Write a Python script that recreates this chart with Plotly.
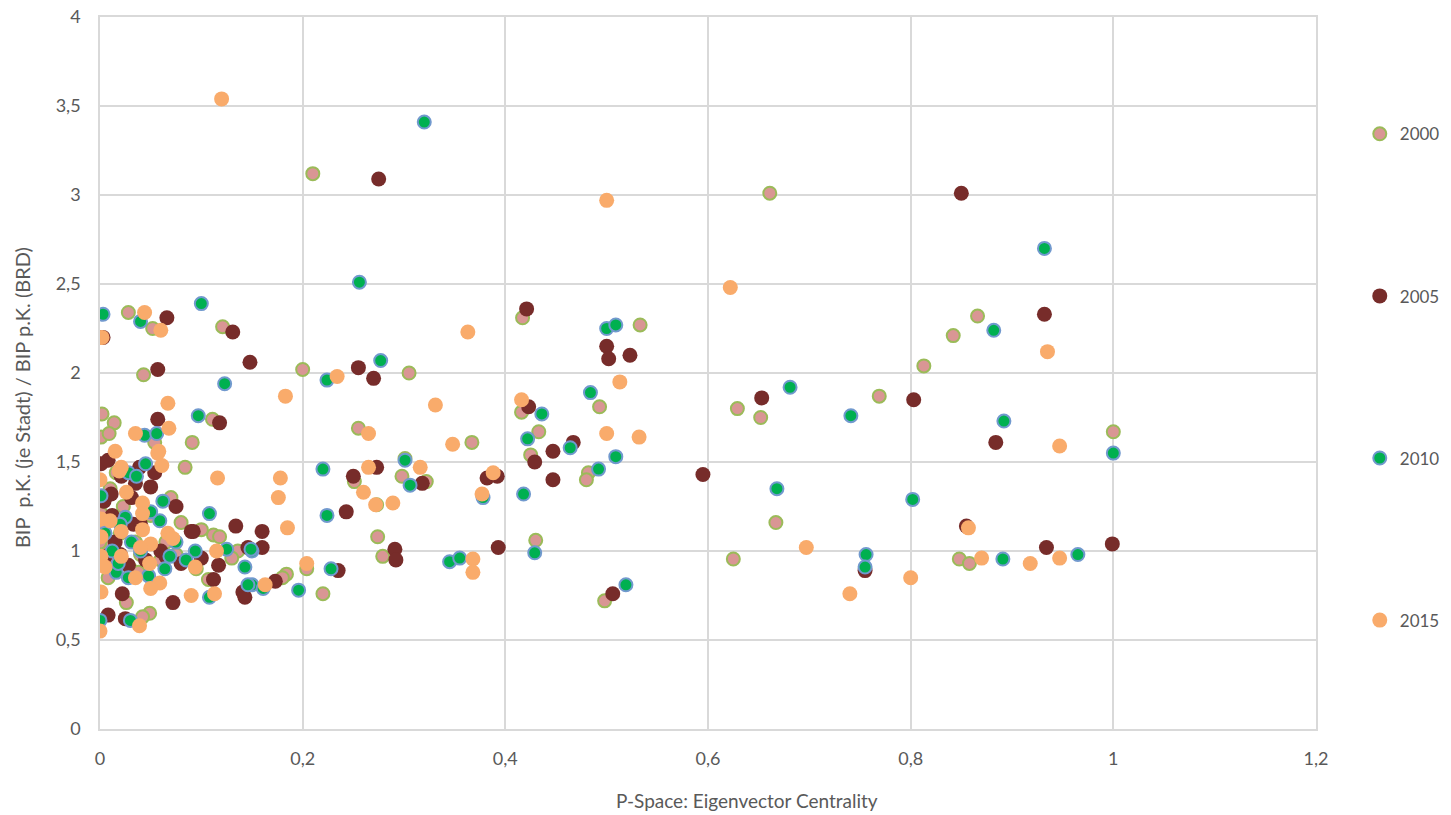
import plotly.graph_objects as go

# --- data: P-Space eigenvector centrality vs. relative GDP per capita ---
x_2000 = [0.210, 0.661, 0.417, 0.533, 0.028, 0.052, 0.121, 0.043, 0.002, 0.014, 0.001, 0.009, 0.111, 0.091, 0.054,
          0.200, 0.255, 0.305, 0.367, 0.416, 0.433, 0.425, 0.493, 0.482, 0.480, 0.301, 0.298,
          0.629, 0.652, 0.769, 0.813, 0.842, 0.866, 1.000, 0.667, 0.625, 0.848, 0.858, 0.498, 0.430,
          0.251, 0.322, 0.273, 0.274, 0.279, 0.184, 0.220, 0.204, 0.180,
          0.084, 0.070, 0.080, 0.112, 0.118, 0.136, 0.107, 0.026, 0.049, 0.042, 0.001, 0.016,
          0.003, 0.005, 0.012, 0.020, 0.035, 0.040, 0.060, 0.075, 0.065, 0.095, 0.030, 0.008, 0.050, 0.023,
          0.010, 0.000, 0.038, 0.100, 0.130]
y_2000 = [3.12, 3.01, 2.31, 2.27, 2.34, 2.25, 2.26, 1.99, 1.77, 1.72, 1.64, 1.66, 1.74, 1.61, 1.61,
          2.02, 1.69, 2.00, 1.61, 1.78, 1.67, 1.54, 1.81, 1.44, 1.40, 1.52, 1.42,
          1.80, 1.75, 1.87, 2.04, 2.21, 2.32, 1.67, 1.16, 0.955, 0.955, 0.93, 0.72, 1.06,
          1.39, 1.39, 1.26, 1.08, 0.97, 0.87, 0.76, 0.90, 0.85,
          1.47, 1.30, 1.16, 1.09, 1.08, 1.00, 0.84, 0.71, 0.65, 0.63, 1.21, 1.44,
          1.13, 1.03, 0.96, 1.10, 1.05, 0.98, 0.95, 0.98, 1.05, 0.90, 0.90, 0.85, 1.20, 1.25,
          1.35, 1.05, 0.88, 1.12, 0.96]

x_2005 = [0.275, 0.850, 0.932, 0.421, 0.423, 0.003, 0.066, 0.131, 0.148, 0.057, 0.118, 0.057, 0.255, 0.270,
          0.500, 0.502, 0.523, 0.595, 0.653, 0.803, 0.884, 0.855, 0.934, 0.999, 0.755, 0.506, 0.467, 0.447,
          0.429, 0.447, 0.382, 0.392, 0.318, 0.393, 0.273, 0.250, 0.243, 0.291, 0.292, 0.235, 0.160, 0.160,
          0.173, 0.134, 0.117, 0.112, 0.141, 0.092, 0.146,
          0.001, 0.039, 0.054, 0.050, 0.075, 0.090, 0.072, 0.008, 0.025, 0.021, 0.031, 0.033, 0.143,
          0.004, 0.012, 0.015, 0.020, 0.028, 0.045, 0.060, 0.065, 0.080, 0.100, 0.005, 0.040, 0.022, 0.011,
          0.035, 0.008]
y_2005 = [3.09, 3.01, 2.33, 2.36, 1.81, 2.20, 2.31, 2.23, 2.06, 2.02, 1.72, 1.74, 2.03, 1.97,
          2.15, 2.08, 2.10, 1.43, 1.86, 1.85, 1.61, 1.14, 1.02, 1.04, 0.89, 0.76, 1.61, 1.56,
          1.50, 1.40, 1.41, 1.42, 1.38, 1.02, 1.47, 1.42, 1.22, 1.01, 0.95, 0.89, 1.11, 1.02,
          0.83, 1.14, 0.92, 0.84, 0.77, 1.11, 1.02,
          1.49, 1.47, 1.44, 1.36, 1.25, 1.11, 0.71, 0.64, 0.62, 1.42, 1.30, 1.15, 0.74,
          1.28, 1.20, 1.05, 0.98, 0.92, 0.95, 1.00, 0.97, 0.93, 0.96, 0.97, 1.15, 0.76, 1.32,
          1.38, 1.51]

x_2010 = [0.320, 0.932, 0.256, 0.100, 0.003, 0.040, 0.277, 0.224, 0.123, 0.500, 0.509, 0.436, 0.422, 0.464,
          0.484, 0.509, 0.492, 0.301, 0.306, 0.418, 0.378, 0.345, 0.355, 0.429, 0.519, 0.681, 0.741, 0.882,
          0.892, 1.000, 0.668, 0.802, 0.756, 0.755, 0.891, 0.965, 0.220, 0.224, 0.228, 0.196, 0.150, 0.150,
          0.161, 0.097, 0.044, 0.056,
          0.045, 0.028, 0.036, 0.001, 0.062, 0.108, 0.059, 0.025, 0.031, 0.069, 0.094, 0.064, 0.028, 0.143,
          0.149, 0.125, 0.108, 0.146, 0.016, 0.000, 0.030,
          0.005, 0.012, 0.018, 0.040, 0.050, 0.075, 0.085, 0.048, 0.020]
y_2010 = [3.41, 2.70, 2.51, 2.39, 2.33, 2.29, 2.07, 1.96, 1.94, 2.25, 2.27, 1.77, 1.63, 1.58,
          1.89, 1.53, 1.46, 1.51, 1.37, 1.32, 1.30, 0.94, 0.96, 0.99, 0.81, 1.92, 1.76, 2.24,
          1.73, 1.55, 1.35, 1.29, 0.98, 0.91, 0.955, 0.98, 1.46, 1.20, 0.90, 0.78, 1.00, 0.81,
          0.79, 1.76, 1.65, 1.66,
          1.49, 1.44, 1.42, 1.31, 1.28, 1.21, 1.17, 1.19, 1.05, 0.97, 1.00, 0.90, 0.85, 0.91,
          1.01, 1.01, 0.74, 0.81, 0.88, 0.61, 0.61,
          1.10, 1.00, 0.93, 1.00, 1.22, 1.05, 0.95, 0.86, 1.15]

x_2015 = [0.120, 0.500, 0.622, 0.935, 0.363, 0.331, 0.183, 0.234, 0.348, 0.416, 0.513, 0.500, 0.532, 0.947,
          0.857, 0.697, 0.870, 0.918, 0.947, 0.800, 0.740, 0.002, 0.044, 0.060, 0.067, 0.035, 0.068, 0.015,
          0.058, 0.265, 0.316, 0.265, 0.178, 0.176, 0.185, 0.260, 0.272, 0.289, 0.204, 0.163, 0.388,
          0.377, 0.368, 0.368,
          0.057, 0.061, 0.021, 0.019, 0.116, 0.000, 0.026, 0.042, 0.042, 0.001, 0.010, 0.001, 0.021, 0.042,
          0.067, 0.072, 0.050, 0.040, 0.049, 0.001, 0.005, 0.021, 0.094, 0.059, 0.050, 0.001, 0.035, 0.090,
          0.113, 0.115, 0.039, 0.000]
y_2015 = [3.54, 2.97, 2.48, 2.12, 2.23, 1.82, 1.87, 1.98, 1.60, 1.85, 1.95, 1.66, 1.64, 1.59,
          1.13, 1.02, 0.96, 0.93, 0.96, 0.85, 0.76, 2.20, 2.34, 2.24, 1.83, 1.66, 1.69, 1.56,
          1.56, 1.66, 1.47, 1.47, 1.41, 1.30, 1.13, 1.33, 1.26, 1.27, 0.93, 0.81, 1.44,
          1.32, 0.955, 0.88,
          1.55, 1.48, 1.47, 1.45, 1.41, 1.40, 1.33, 1.27, 1.21, 1.18, 1.17, 1.08, 1.11, 1.12,
          1.10, 1.07, 1.04, 1.02, 0.93, 0.97, 0.91, 0.97, 0.91, 0.82, 0.79, 0.77, 0.85, 0.75,
          0.76, 1.00, 0.58, 0.55]

x_ticks = [0, 0.2, 0.4, 0.6, 0.8, 1.0, 1.2]
y_ticks = [0, 0.5, 1, 1.5, 2, 2.5, 3, 3.5, 4]

series = [
    ("2000", x_2000, y_2000, "#D99694", "#9BBB59", 2),
    ("2005", x_2005, y_2005, "#772C2A", "#772C2A", 0),
    ("2010", x_2010, y_2010, "#00B050", "#7199CE", 2),
    ("2015", x_2015, y_2015, "#F9AB6B", "#F9AB6B", 0),
]

TEXT = "#595959"
GRID = "#D9D9D9"
FONT = "Lato"

fig = go.Figure()
for name, xs, ys, fill, edge, lw in series:
    fig.add_trace(go.Scatter(
        x=xs, y=ys, mode="markers", name=name, legendgroup=name,
        marker=dict(size=15 - lw, color=fill, line=dict(color=edge, width=lw)),
    ))

axis_common = dict(
    showgrid=True, gridcolor=GRID, gridwidth=1.5,
    zeroline=False, showline=True, mirror=True, linecolor=GRID, linewidth=1.5,
    ticks="", automargin=False, tickfont=dict(family=FONT, size=18, color=TEXT),
)

fig.update_layout(
    width=1451, height=815,
    margin=dict(l=100, r=135, t=17, b=86, autoexpand=False),
    paper_bgcolor="white", plot_bgcolor="white",
    separators=", ",
    font=dict(family=FONT, color=TEXT),
    xaxis=dict(range=[0, 1.2], tickvals=x_ticks, ticklabelstandoff=13, **axis_common),
    yaxis=dict(range=[0, 4], tickvals=y_ticks, ticklabelstandoff=14, **axis_common),
    legend=dict(
        x=1.036, xanchor="left", y=0.8606, yanchor="top",
        font=dict(family=FONT, size=17, color=TEXT),
        tracegroupgap=137, itemsizing="trace", bgcolor="rgba(0,0,0,0)",
    ),
    annotations=[
        dict(text="P-Space: Eigenvector Centrality", xref="paper", yref="paper",
             x=0.532, y=-0.1, xanchor="center", yanchor="middle", showarrow=False,
             font=dict(family=FONT, size=19, color=TEXT)),
        dict(text="BIP  p.K. (je Stadt) / BIP p.K. (BRD)", xref="paper", yref="paper",
             x=-0.064, y=0.465, xanchor="center", yanchor="middle", textangle=-90,
             showarrow=False, font=dict(family=FONT, size=20, color=TEXT)),
    ],
)

fig.write_html("out.html")
